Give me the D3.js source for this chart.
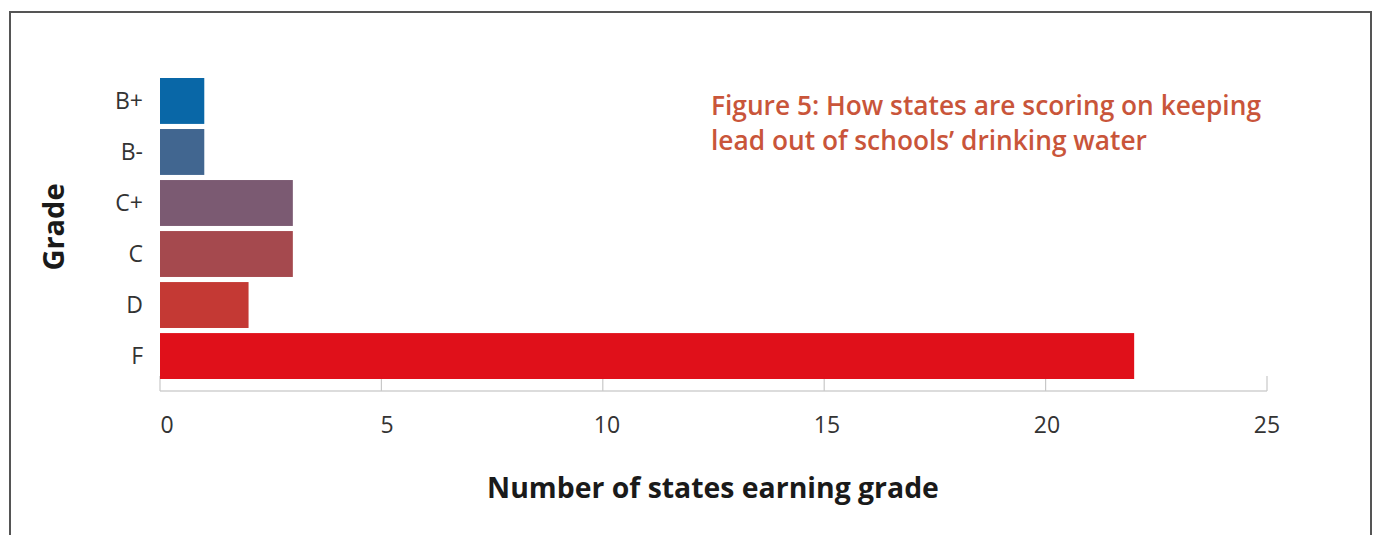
<!DOCTYPE html>
<html>
<head>
    <meta charset="utf-8"/>
    <title>Figure 5</title>
    <script src="https://d3js.org/d3.v7.min.js"></script>
    <style>
        body { margin: 0; background: #fff; }
        text { font-family: "Open Sans", sans-serif; }
    </style>
</head>
<body>
    <div id="chart"></div>
    <script>
        // Data
        var grades = ["B+", "B-", "C+", "C", "D", "F"];
        var counts = [1, 1, 3, 3, 2, 22];
        var barColors = ["#0967a7", "#416690", "#7b5a72", "#a5494e", "#c43934", "#e0101a"];
        var xTicks = [0, 5, 10, 15, 20, 25];
        var titleLines = ["Figure 5: How states are scoring on keeping",
                          "lead out of schools\u2019 drinking water"];

        var width = 1375, height = 535;
        var svg = d3.select("#chart")
                    .append("svg")
                    .attr("width", width)
                    .attr("height", height);

        // Frame
        svg.append("rect")
           .attr("x", 10).attr("y", 12)
           .attr("width", 1361).attr("height", 560)
           .attr("fill", "none")
           .attr("stroke", "#555")
           .attr("stroke-width", 2);

        var xScale = d3.scaleLinear()
                       .domain([0, 25])
                       .range([160, 1267]);

        // tick labels sit a little right of the ticks at the low end
        var labelScale = d3.scaleLinear()
                           .domain([0, 25])
                           .range([167, 1267]);

        var yScale = d3.scaleBand()
                       .domain(grades)
                       .range([78, 379])
                       .paddingInner(0.1)
                       .paddingOuter(0);

        var axisY = 391;

        // Axis baseline and ticks
        var axis = svg.append("g").attr("transform", "translate(0," + axisY + ")");
        axis.append("line")
            .attr("x1", xScale(0)).attr("x2", xScale(25))
            .attr("stroke", "#d0d0d0").attr("stroke-width", 1.5);
        axis.selectAll(".tick")
            .data(xTicks)
            .enter()
            .append("line")
            .attr("x1", function(d) { return xScale(d); })
            .attr("x2", function(d) { return xScale(d); })
            .attr("y1", 0)
            .attr("y2", -15)
            .attr("stroke", "#c8c8c8").attr("stroke-width", 1.2);
        axis.selectAll(".tl")
            .data(xTicks)
            .enter()
            .append("text")
            .attr("x", function(d) { return labelScale(d); })
            .attr("y", 42)
            .attr("text-anchor", "middle")
            .attr("font-size", 23)
            .attr("fill", "#333")
            .text(function(d) { return d; });

        // Bars
        svg.selectAll(".bar")
           .data(counts)
           .enter()
           .append("rect")
           .attr("x", xScale(0))
           .attr("y", function(d, i) { return yScale(grades[i]); })
           .attr("width", function(d) { return xScale(d) - xScale(0); })
           .attr("height", yScale.bandwidth())
           .attr("fill", function(d, i) { return barColors[i]; });

        // Category labels
        svg.selectAll(".yl")
           .data(grades)
           .enter()
           .append("text")
           .attr("x", 143)
           .attr("y", function(d) { return yScale(d) + yScale.bandwidth() / 2; })
           .attr("dy", "0.35em")
           .attr("text-anchor", "end")
           .attr("font-size", 23)
           .attr("fill", "#333")
           .text(function(d) { return d; });

        // Axis titles
        svg.append("text")
           .attr("x", 713).attr("y", 498)
           .attr("text-anchor", "middle")
           .attr("font-size", 28.4)
           .attr("font-weight", "bold")
           .attr("fill", "#1a1a1a")
           .text("Number of states earning grade");

        svg.append("text")
           .attr("transform", "translate(64,227) rotate(-90)")
           .attr("text-anchor", "middle")
           .attr("font-size", 29)
           .attr("font-weight", "bold")
           .attr("fill", "#1a1a1a")
           .text("Grade");

        // Figure title
        svg.selectAll(".title")
           .data(titleLines)
           .enter()
           .append("text")
           .attr("x", 711)
           .attr("y", function(d, i) { return 115 + i * 35; })
           .attr("font-size", 26.3)
           .attr("font-weight", 600)
           .attr("fill", "#c9553a")
           .text(function(d) { return d; });
    </script>
</body>
</html>
